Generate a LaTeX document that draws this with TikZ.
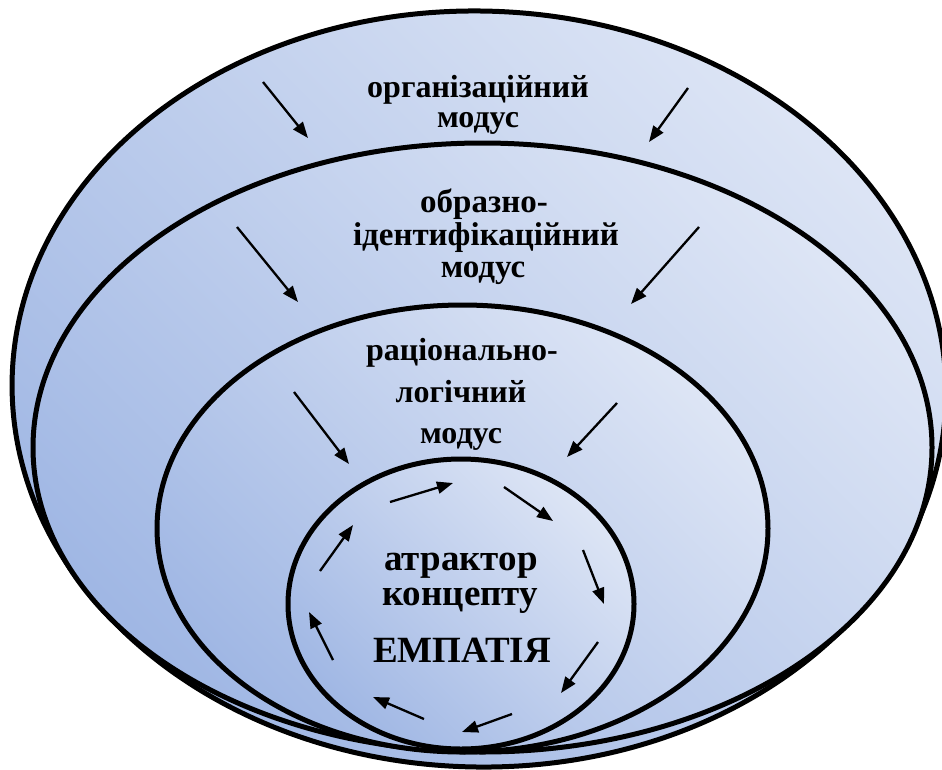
\documentclass[tikz,border=0pt]{standalone}
\usepackage{fontspec}
\setmainfont{Liberation Serif}
\usetikzlibrary{arrows.meta}

\definecolor{ringdark}{RGB}{160,183,228}
\definecolor{ringlight}{RGB}{221,229,245}

\begin{document}
\begin{tikzpicture}[x=1pt,y=-1pt,
  ring/.style={draw=black, line width=5pt, shading=axis,
    bottom color=ringdark, top color=ringlight, shading angle=-45},
  flow/.style={line width=2.3pt, -{Triangle[length=16pt,width=12pt]}},
  modtext/.style={font=\bfseries\fontsize{32}{33}\selectfont, anchor=base, inner sep=0pt},
  coretext/.style={font=\bfseries\fontsize{37}{38}\selectfont, anchor=base, inner sep=0pt}]

\useasboundingbox (0,0) rectangle (942,769);
\clip (0,0) rectangle (942,769);

% nested modes, outermost first
\path[ring, rotate around={-1.3:(479,389)}] (479,389) ellipse [x radius=467pt, y radius=378pt];
\path[ring] (482.5,447.5) ellipse [x radius=449.5pt, y radius=304.5pt];
\path[ring] (462.5,528.5) ellipse [x radius=305.5pt, y radius=223.5pt];
\path[ring] (461,604) ellipse [x radius=173pt, y radius=145pt];

% labels of the modes
\node[modtext] (org1) at (478,97) {організаційний};
\node[modtext] (org2) at (478,127) {модус};
\node[modtext, font=\bfseries\fontsize{33}{34}\selectfont] (img1) at (484,212) {образно-};
\node[modtext, font=\bfseries\fontsize{33}{34}\selectfont] (img2) at (486,245) {ідентифікаційний};
\node[modtext, font=\bfseries\fontsize{33}{34}\selectfont] (img3) at (483,277) {модус};
\node[modtext] (rat1) at (462,360) {раціонально-};
\node[modtext] (rat2) at (461,402) {логічний};
\node[modtext] (rat3) at (461,443) {модус};
\node[coretext] (core1) at (461,570) {атрактор};
\node[coretext] (core2) at (460,605) {концепту};
\node[coretext] (core3) at (462,662) {ЕМПАТІЯ};

% inward arrows between the modes
\coordinate (oa1) at (263,82);  \coordinate (ob1) at (308,138);
\coordinate (oa2) at (688,88);  \coordinate (ob2) at (649,142);
\coordinate (ia1) at (237,227); \coordinate (ib1) at (298,302);
\coordinate (ia2) at (699,227); \coordinate (ib2) at (631,304);
\coordinate (ra1) at (294,392); \coordinate (rb1) at (349,464);
\coordinate (ra2) at (617,403); \coordinate (rb2) at (567,457);
\draw[flow] (oa1) -- (ob1);
\draw[flow] (oa2) -- (ob2);
\draw[flow] (ia1) -- (ib1);
\draw[flow] (ia2) -- (ib2);
\draw[flow] (ra1) -- (rb1);
\draw[flow] (ra2) -- (rb2);

% circulation around the attractor
\coordinate (c1a) at (390,502); \coordinate (c1b) at (453,483);
\coordinate (c2a) at (504,487); \coordinate (c2b) at (553,521);
\coordinate (c3a) at (583,550); \coordinate (c3b) at (604,604);
\coordinate (c4a) at (598,642); \coordinate (c4b) at (561,693);
\coordinate (c5a) at (512,714); \coordinate (c5b) at (462,732);
\coordinate (c6a) at (424,719); \coordinate (c6b) at (373,697);
\coordinate (c7a) at (333,660); \coordinate (c7b) at (309,612);
\coordinate (c8a) at (320,571); \coordinate (c8b) at (353,525);
\foreach \k in {1,...,8} {\draw[flow] (c\k a) -- (c\k b);}

\end{tikzpicture}
\end{document}
